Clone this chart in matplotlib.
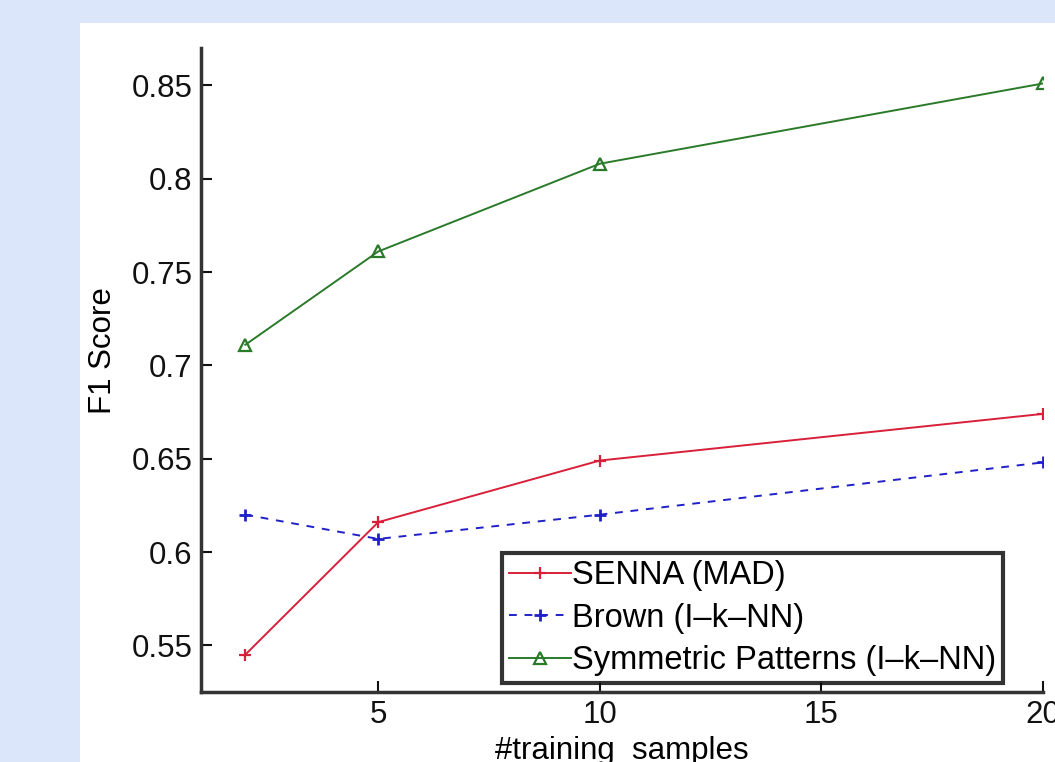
import matplotlib.pyplot as plt
from matplotlib.patches import Rectangle

# Datos
samples = [2, 5, 10, 20]
senna = [0.545, 0.616, 0.649, 0.674]
brown = [0.620, 0.607, 0.620, 0.648]
sympat = [0.711, 0.761, 0.808, 0.851]
yticks = [0.55, 0.6, 0.65, 0.7, 0.75, 0.8, 0.85]
ytick_labels = ["0.55", "0.6", "0.65", "0.7", "0.75", "0.8", "0.85"]
xticks = [5, 10, 15, 20]

plt.rcParams['font.family'] = ['Liberation Sans', 'DejaVu Sans']

fig = plt.figure(figsize=(10.55, 7.62), dpi=100)
fig.patch.set_facecolor("#dce6fb")
# panel blanco
fig.patches.append(Rectangle((80 / 1055, 0), 1 - 80 / 1055, 1 - 23 / 762,
                             transform=fig.transFigure, facecolor="white",
                             edgecolor="none", zorder=-10))

ax = fig.add_axes([201 / 1055, 1 - 692 / 762, (1043 - 201) / 1055, (692 - 48) / 762])
ax.set_facecolor("white")

ax.plot(samples, senna, color="#d8203a", lw=1.4, marker="+", ms=9, mew=1.6,
        label="SENNA (MAD)")
ax.plot(samples, brown, color="#2020c8", lw=1.4, ls=(0, (4, 4)), marker="+", ms=9, mew=2,
        label="Brown (I\u2013k\u2013NN)")
ax.plot(samples, sympat, color="#2a7a2a", lw=1.4, marker="^", ms=8, mfc="none", mew=1.6,
        label="Symmetric Patterns (I\u2013k\u2013NN)")

ax.set_xlim(1, 20)
ax.set_ylim(0.525, 0.87)
ax.set_xticks(xticks)
ax.set_yticks(yticks)
ax.set_yticklabels(ytick_labels)
ax.tick_params(direction="in", length=8, width=1.5, labelsize=22.5, colors="#111111", pad=6)

for side in ["top", "right"]:
    ax.spines[side].set_visible(False)
for side in ["left", "bottom"]:
    ax.spines[side].set_linewidth(2.5)
    ax.spines[side].set_color("#333333")

ax.set_xlabel("#training  samples", fontsize=22.5, labelpad=4)
ax.set_ylabel("F1 Score", fontsize=22.5)
ax.yaxis.set_label_coords(-0.098, 0.53)

leg = ax.legend(loc="lower right", bbox_to_anchor=(0.9525, 0.014), fontsize=23.5,
                frameon=True, fancybox=False, handlelength=1.9, handletextpad=0.05,
                borderpad=0.2, labelspacing=0.36, borderaxespad=0)
leg.get_frame().set_edgecolor("black")
leg.get_frame().set_linewidth(3)

fig.savefig("out.png", dpi=100, facecolor=fig.get_facecolor())
